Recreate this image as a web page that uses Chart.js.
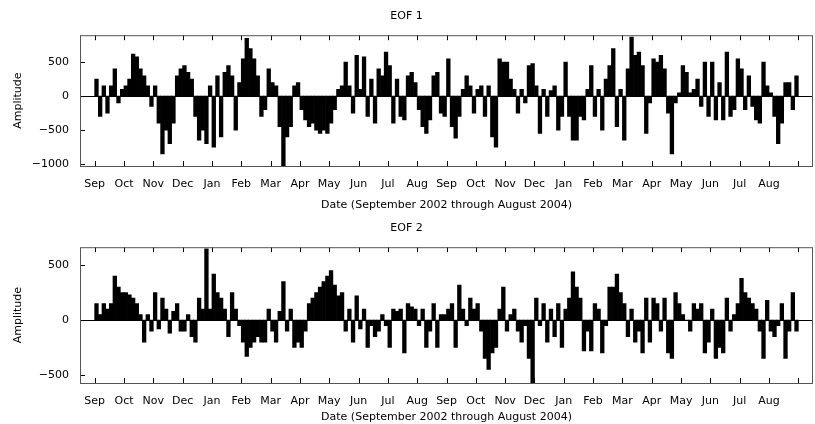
<!DOCTYPE html>
<html>
<head>
<meta charset="utf-8">
<script src="https://cdn.jsdelivr.net/npm/chart.js@4"></script>
<style>
  body { margin: 0; background: #fff; }
  .panel { position: absolute; left: 0; width: 815px; height: 212px; }
</style>
</head>
<body>
<div class="panel" style="top:0"><canvas id="eof1" width="815" height="212"></canvas></div>
<div class="panel" style="top:212px"><canvas id="eof2" width="815" height="212"></canvas></div>
<script>
// month labels, one tick every 8 samples (~4 days each), Sep 2002 .. Aug 2004
const months = ["Sep","Oct","Nov","Dec","Jan","Feb","Mar","Apr","May","Jun","Jul","Aug",
                "Sep","Oct","Nov","Dec","Jan","Feb","Mar","Apr","May","Jun","Jul","Aug"];
const perMonth = 8;
const eof1Ticks = [-1000, -500, 0, 500];
const eof2Ticks = [-500, 0, 500];

// EOF 1 amplitude, 8 samples per month
const eof1 = [
  250, -300, 150, -250, 150, 400, -100, 100,
  150, 250, 620, 580, 400, 300, 150, -150,
  150, -400, -850, -500, -700, -400, 300, 400,
  450, 350, 250, -300, -650, -500, -700, 150,
  -750, 300, -600, 350, 450, 300, -500, 200,
  550, 850, 700, 550, 300, -300, -200, 400,
  200, 150, -450, -1050, -600, -450, 150, 200,
  -200, -350, -450, -400, -500, -550, -500, -550,
  -400, -200, 100, 150, 500, 150, -250, 600,
  100, 580, -300, 250, -400, 400, 300, 650,
  450, -400, 250, -300, -350, 300, 350, 200,
  -200, -450, -550, -350, 300, 350, -250, -300,
  550, -450, -620, -300, 100, 300, 150, -250,
  100, 150, -300, 150, -600, -750, 550, 500,
  500, 250, 100, -250, 100, -100, 450, 480,
  150, -550, 100, -300, 80, 150, -500, -300,
  500, -300, -650, -650, -300, -350, 100, 450,
  -300, 100, -500, 250, 450, 700, -450, 100,
  -650, 400, 870, 600, 650, 450, -550, -100,
  550, 500, 600, 400, -250, -850, -100, 50,
  450, 350, 50, 100, 250, -150, 500, -300,
  500, -350, 200, -350, 650, -300, -200, 550,
  400, -200, 300, -150, -350, -400, 500, 150,
  50, -300, -700, -400, 200, 200, -200, 300
];

// EOF 2 amplitude, 8 samples per month
const eof2 = [
  150, 50, 150, 100, 150, 400, 300, 250,
  250, 230, 200, 150, 50, -200, 50, -100,
  250, -80, 200, 100, -120, 80, 150, -100,
  -100, 50, -150, -200, 200, 100, 650, 100,
  420, 250, 200, 100, -150, 250, 100, -50,
  -200, -330, -250, -200, -150, -200, -200, 100,
  -100, -200, 80, 350, -100, 100, -250, -200,
  -250, -100, 150, 200, 250, 300, 350, 400,
  450, 320, 220, 250, -100, 100, -200, 220,
  -80, 100, -250, -50, -150, -100, 50, -50,
  -250, 100, 80, 100, -300, 150, 120, 100,
  -50, 100, -250, -100, 150, -250, 50, 50,
  100, 150, -250, 320, 100, -50, 200, 100,
  150, -100, -350, -450, -300, -250, 100, 300,
  -100, 50, 100, -100, -200, -50, -350, -570,
  200, -50, 150, -200, 100, -150, 150, -250,
  100, 200, 440, 300, 200, -280, -100, -280,
  150, 100, -300, -50, 300, 300, 420, 250,
  150, -150, 100, -200, -100, -300, 200, -200,
  200, 150, -100, 200, -300, -350, 250, 150,
  50, 0, -100, 150, 100, 150, -300, -200,
  100, -350, -250, -300, 200, -100, 50, 150,
  380, 250, 200, 150, 100, -100, -350, 180,
  -100, -150, -50, 150, -350, -100, 250, -100
];

const xTitle = "Date (September 2002 through August 2004)";
const FONT = { family: "DejaVu Sans", size: 11 };

// draws the box, the zero line and inward tick marks
const frame = {
  id: "frame",
  afterDatasetsDraw(chart) {
    const { ctx, chartArea: a, scales } = chart;
    ctx.save();
    ctx.strokeStyle = "#000";
    ctx.lineWidth = 1;
    const y0 = Math.round(scales.y.getPixelForValue(0)) + 0.5;
    ctx.beginPath();
    ctx.moveTo(a.left, y0); ctx.lineTo(a.right, y0);
    scales.x.ticks.forEach(t => {
      const x = Math.round(scales.x.getPixelForValue(t.value)) + 0.5;
      ctx.moveTo(x, a.bottom); ctx.lineTo(x, a.bottom - 5);
      ctx.moveTo(x, a.top); ctx.lineTo(x, a.top + 5);
    });
    scales.y.ticks.forEach(t => {
      const y = Math.round(scales.y.getPixelForValue(t.value)) + 0.5;
      ctx.moveTo(a.left, y); ctx.lineTo(a.left + 5, y);
    });
    ctx.stroke();
    ctx.strokeStyle = "#555";
    ctx.strokeRect(a.left + 0.5, a.top + 0.5, a.right - a.left - 1, a.bottom - a.top);
    ctx.restore();
  }
};

function makeChart(id, title, values, yMin, yMax, yTicks, xHeight) {
  new Chart(document.getElementById(id), {
    type: "bar",
    data: {
      datasets: [{
        data: values.map((v, i) => ({ x: i + 0.5, y: v })),
        backgroundColor: "#000",
        borderWidth: 0,
        barPercentage: 1,
        categoryPercentage: 1
      }]
    },
    options: {
      responsive: false,
      animation: false,
      layout: { padding: { right: 2, left: 0 } },
      plugins: {
        legend: { display: false },
        tooltip: { enabled: false },
        title: { display: true, text: title, color: "#000", font: { ...FONT, weight: "normal" }, padding: { top: 10, bottom: 12 } }
      },
      scales: {
        x: {
          type: "linear", min: 0, max: months.length * perMonth,
          grid: { display: false },
          border: { display: false },
          ticks: {
            stepSize: perMonth, color: "#000", font: FONT, maxRotation: 0, autoSkip: false, padding: 4,
            callback: v => months[v / perMonth] || ""
          },
          title: { display: true, text: xTitle, color: "#000", font: FONT, padding: 0 },
          afterFit: s => { s.height = xHeight; }
        },
        y: {
          min: yMin, max: yMax,
          grid: { display: false },
          border: { display: false },
          ticks: { color: "#000", font: FONT, padding: 3, callback: v => String(v).replace("-", "\u2212") },
          afterBuildTicks: s => { s.ticks = yTicks.map(v => ({ value: v })); },
          title: { display: true, text: "Amplitude", color: "#000", font: FONT, padding: { top: 12, bottom: 0 } },
          afterFit: s => { s.width = 80; }
        }
      }
    },
    plugins: [frame]
  });
}

makeChart("eof1", "EOF 1", eof1, -1029, 897, eof1Ticks, 46);
makeChart("eof2", "EOF 2", eof2, -573, 664, eof2Ticks, 41);
</script>
</body>
</html>
